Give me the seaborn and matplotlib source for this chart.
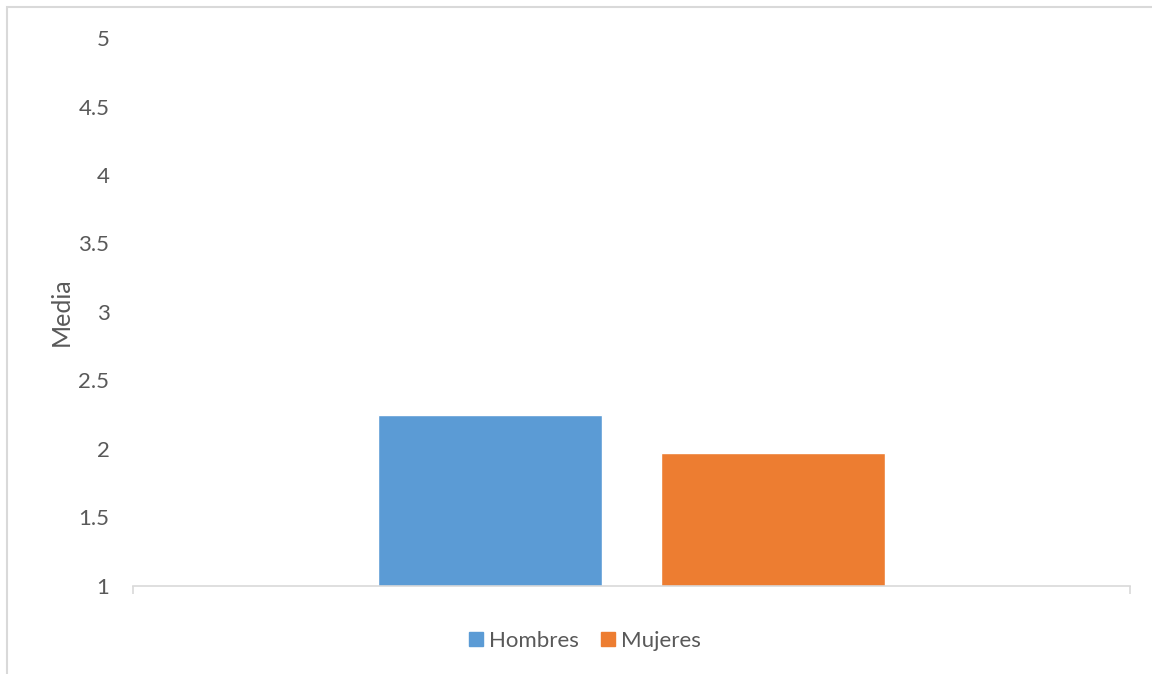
import matplotlib
matplotlib.use('Agg')
import matplotlib.pyplot as plt
import seaborn as sns
import pandas as pd
from matplotlib.patches import Rectangle

# data
groups = ['Hombres', 'Mujeres']
means = [2.25, 1.97]
colors = ['#5b9bd5', '#ed7d31']
y_ticks = [1, 1.5, 2, 2.5, 3, 3.5, 4, 4.5, 5]

sns.set_theme(style='white')
plt.rcParams['font.family'] = ['Lato', 'DejaVu Sans']

df = pd.DataFrame({'grupo': groups, 'media': means})

fig = plt.figure(figsize=(11.52, 6.74), dpi=100)
ax = fig.add_axes([0.1155, 0.1306, 0.981 - 0.1155, 0.9436 - 0.1306])

sns.barplot(data=df, x='grupo', y='media', hue='grupo', palette=colors,
            width=0.79, ax=ax, legend=False, saturation=1)

# Excel axis minimum is 1
ax.set_ylim(1, 5)
ax.set_xlim(-1.261, 2.261)
ax.set_yticks(y_ticks)
ax.set_yticklabels([f'{t:g}' for t in y_ticks], color='#595959', fontsize=16)
ax.tick_params(axis='y', length=0, pad=17)

# x axis: only the border ticks, no labels
ax.set_xticks([-1.261, 2.261])
ax.set_xticklabels(['', ''])
ax.tick_params(axis='x', direction='out', length=6, width=1.2, color='#d9d9d9', bottom=True)
ax.set_xlabel('')

for side in ['top', 'right', 'left']:
    ax.spines[side].set_visible(False)
ax.spines['bottom'].set_color('#d9d9d9')
ax.spines['bottom'].set_linewidth(1.2)

ax.set_ylabel('Media', fontsize=18, color='#595959', labelpad=4)

# legend at the bottom
handles = [Rectangle((0, 0), 1, 1, color=c) for c in colors]
fig.legend(handles, groups, loc='center', bbox_to_anchor=(0.508, 0.049),
           ncol=2, frameon=False, fontsize=16, handlelength=0.6, handleheight=0.6,
           handletextpad=0.3, columnspacing=1.0, labelcolor='#595959')

# chart outer frame (partly cut off like the screenshot)
fig.patches.append(Rectangle((7 / 1152, -0.1), 1.2, 1 - 7 / 674 + 0.1,
                             transform=fig.transFigure, fill=False,
                             edgecolor='#d9d9d9', linewidth=1.5))

plt.savefig('out.png', dpi=100)
